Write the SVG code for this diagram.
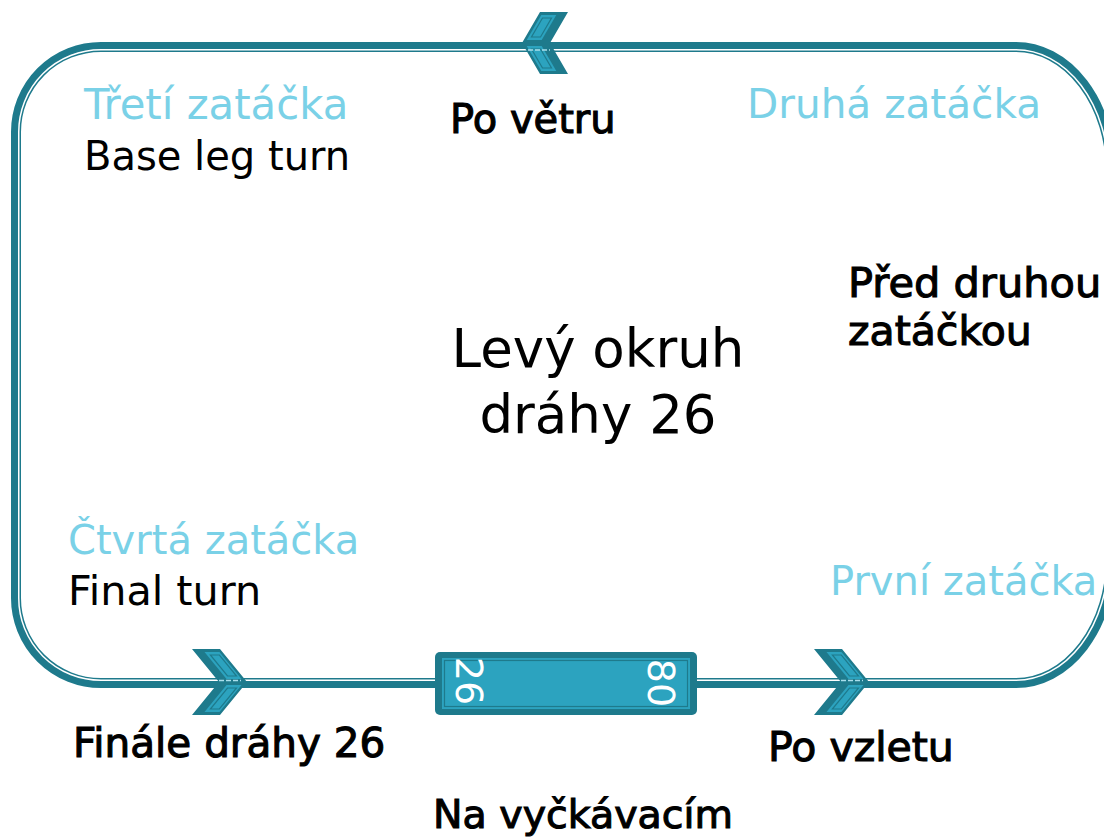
<svg xmlns="http://www.w3.org/2000/svg" width="1104" height="837" viewBox="0 0 1104 837">
<style>
  .lbl { font-family: "DejaVu Sans", "Liberation Sans", sans-serif; font-size: 40px; }
  .turn { fill: #7ad1e7; }
  .reg { fill: #000; }
  .bold { fill: #000; stroke: #000; stroke-width: 1.1px; }
  .title { font-family: "DejaVu Sans", "Liberation Sans", sans-serif; font-size: 53px; fill: #000; }
  .rwy { font-family: "DejaVu Sans", "Liberation Sans", sans-serif; font-size: 38px; fill: #fff; }
  .dark { fill: #1e7a8c; }
  .light { fill: #2ca3bf; }
  .outl { fill: none; stroke: #1e7a8c; stroke-width: 1.2; }
  .dash { fill: none; stroke: #a9dfec; stroke-width: 1.5; stroke-dasharray: 5 2; }
</style>
<defs>
  <g id="chev">
    <polygon class="dark" points="-27,-33 1,-33 28,0 1,33 -27,33 0,0"/>
    <polygon class="light" points="-14.5,-30 0.5,-30 22.5,-3 7.5,-3"/>
    <polygon class="outl" points="-8.6,-27 0.4,-27 17.5,-6 8.5,-6"/>
    <polygon class="light" points="-14.5,30 0.5,30 22.5,3 7.5,3"/>
    <polygon class="outl" points="-8.6,27 0.4,27 17.5,6 8.5,6"/>
    <line class="dash" x1="0" y1="-1.5" x2="22" y2="-1.5"/>
  </g>
</defs>

<g id="connectors">
  <path d="M 101,47 H 1016 A 95 125 0 0 1 1111 172 V 558 A 95 125 0 0 1 1016 683 H 101 A 85 85 0 0 1 16 598 V 132 A 85 85 0 0 1 101 47 Z" fill="none" stroke="#1e7a8c" stroke-width="10"/>
  <path d="M 101,49.75 H 1016 A 92.25 122.25 0 0 1 1108.25 172 V 558 A 92.25 122.25 0 0 1 1016 680.25 H 101 A 82.25 82.25 0 0 1 18.75 598 V 132 A 82.25 82.25 0 0 1 101 49.75 Z" fill="none" stroke="#fff" stroke-width="1.5"/>
</g>

<g id="arrow-top">
  <polygon class="dark" points="540,12 568,12 550,43 568,74 540,74 522,43"/>
  <polygon class="light" points="541.3,15 556.3,15 541.7,40 526.7,40"/>
  <polygon class="outl" points="542.5,18 551.5,18 540.5,37 531.5,37"/>
  <polygon class="light" points="541.3,71 556.3,71 541.7,46 526.7,46"/>
  <polygon class="outl" points="542.5,68 551.5,68 540.5,49 531.5,49"/>
  <line class="dash" x1="528" y1="50" x2="550" y2="50"/>
</g>
<g id="arrow-final">
  <use href="#chev" transform="translate(219,682)"/>
</g>
<g id="arrow-upwind">
  <use href="#chev" transform="translate(841,682)"/>
</g>

<g id="runway">
  <rect x="435" y="652" width="262" height="63" rx="5" ry="5" fill="#1e7a8c"/>
  <rect x="442" y="658" width="248" height="51" fill="#2ca3bf"/>
  <rect x="444.5" y="660.5" width="243" height="46" fill="none" stroke="#1e7a8c" stroke-width="1.2"/>
  <text class="rwy" text-anchor="middle" transform="translate(456,681) rotate(90)">26</text>
  <text class="rwy" text-anchor="middle" transform="translate(648,683) rotate(90)">80</text>
</g>

<g id="third-turn">
  <text class="lbl turn" x="84" y="119" style="font-size:41.8px">Třetí zatáčka</text>
  <text class="lbl reg" x="84" y="170">Base leg turn</text>
</g>
<g id="downwind">
  <text class="lbl bold" x="450" y="133">Po větru</text>
</g>
<g id="second-turn">
  <text class="lbl turn" x="747" y="118" style="font-size:40.6px">Druhá zatáčka</text>
</g>
<g id="before-second-turn">
  <text class="lbl bold" x="848" y="297" style="font-size:41.5px">Před druhou</text>
  <text class="lbl bold" x="848" y="345" style="font-size:41px">zatáčkou</text>
</g>
<g id="title">
  <text class="title" text-anchor="middle" x="598" y="367">Levý okruh</text>
  <text class="title" text-anchor="middle" x="598" y="433">dráhy 26</text>
</g>
<g id="fourth-turn">
  <text class="lbl turn" x="68" y="554">Čtvrtá zatáčka</text>
  <text class="lbl reg" x="68" y="605" style="font-size:41.3px">Final turn</text>
</g>
<g id="first-turn">
  <text class="lbl turn" x="830" y="595">První zatáčka</text>
</g>
<g id="final">
  <text class="lbl bold" x="73" y="757" style="font-size:40.5px">Finále dráhy 26</text>
</g>
<g id="after-takeoff">
  <text class="lbl bold" x="768" y="761" style="font-size:41px">Po vzletu</text>
</g>
<g id="holding">
  <text class="lbl bold" x="433" y="828" style="font-size:39.5px">Na vyčkávacím</text>
</g>
</svg>
